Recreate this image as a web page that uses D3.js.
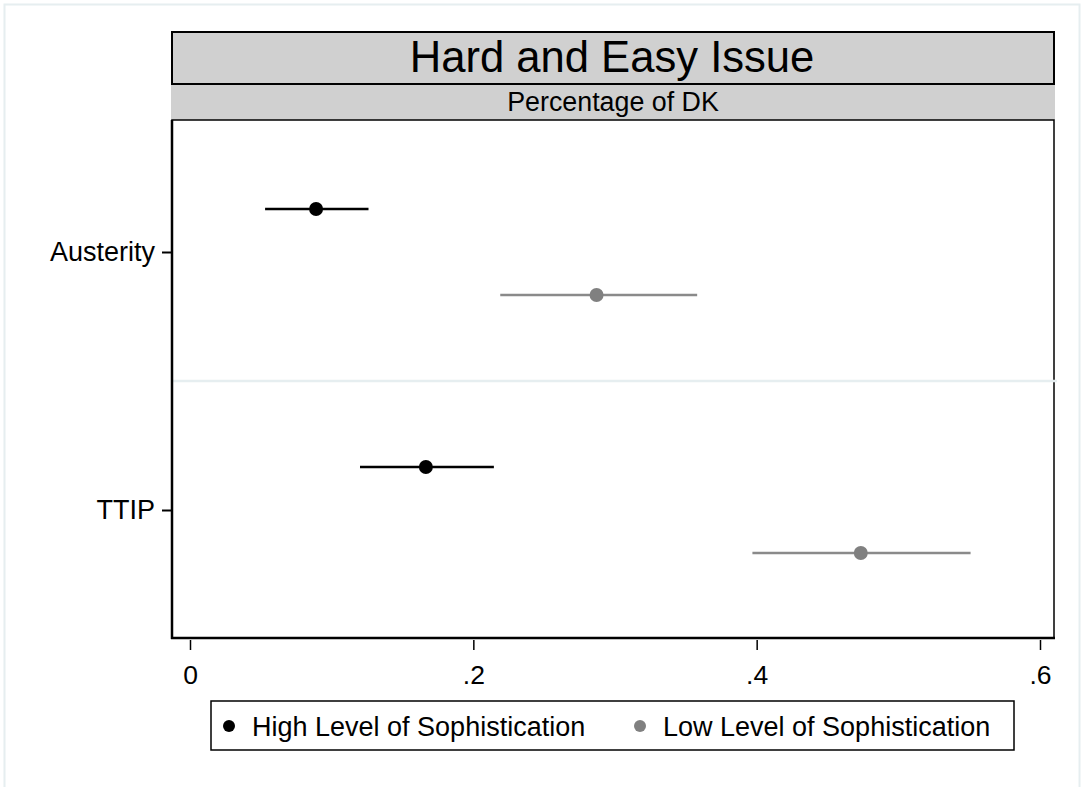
<!DOCTYPE html>
<html>
<head>
<meta charset="utf-8">
<script src="https://cdn.jsdelivr.net/npm/d3@7"></script>
<style>
  html, body { margin: 0; padding: 0; background: #ffffff; }
  svg { display: block; font-family: "Liberation Sans", Arial, sans-serif; }
</style>
</head>
<body>
<svg id="chart" width="1083" height="787"></svg>
<script>
// Issues shown on the vertical axis
const categories = ["Austerity", "TTIP"];

// Share of "don't know" answers with 95% intervals, by sophistication group
const highMean = [0.089, 0.1665];
const highLow  = [0.053, 0.120];
const highHigh = [0.126, 0.2145];

const lowMean = [0.287, 0.4735];
const lowLow  = [0.219, 0.397];
const lowHigh = [0.358, 0.551];

const xTicks = [0, 0.2, 0.4, 0.6];
const xTickLabels = ["0", ".2", ".4", ".6"];

const seriesNames = ["High Level of Sophistication", "Low Level of Sophistication"];

const series = [
  { name: seriesNames[0], mean: highMean, lo: highLow, hi: highHigh, color: "#000000", lineColor: "#000000", offset: -1 / 6 },
  { name: seriesNames[1], mean: lowMean,  lo: lowLow,  hi: lowHigh,  color: "#808080", lineColor: "#8a8a8a", offset: 1 / 6 }
];

const svg = d3.select("#chart");

// Light outer frame
svg.append("rect")
  .attr("x", 4.5).attr("y", 4.5)
  .attr("width", 1075).attr("height", 790)
  .attr("fill", "#ffffff")
  .attr("stroke", "#e6eef0").attr("stroke-width", 2);

const plot = { left: 172, right: 1054, top: 120, bottom: 638 };

const x = d3.scaleLinear().domain([0, 0.6]).range([190, 1040]);
const y = d3.scaleLinear().domain([0.5, 2.5]).range([123, 639]);

// Title box
svg.append("rect")
  .attr("x", 172).attr("y", 32)
  .attr("width", plot.right - 172).attr("height", 52)
  .attr("fill", "#d0d0d0")
  .attr("stroke", "#000").attr("stroke-width", 2);
svg.append("text")
  .attr("x", (172 + plot.right) / 2 - 1).attr("y", 72)
  .attr("text-anchor", "middle")
  .attr("font-size", 43.6)
  .attr("fill", "#000")
  .text("Hard and Easy Issue");

// Subtitle strip
svg.append("rect")
  .attr("x", 171).attr("y", 85)
  .attr("width", plot.right - 170).attr("height", 35)
  .attr("fill", "#d0d0d0");
svg.append("text")
  .attr("x", (172 + plot.right) / 2).attr("y", 111)
  .attr("text-anchor", "middle")
  .attr("font-size", 26.8)
  .attr("fill", "#000")
  .text("Percentage of DK");

// Plot region
svg.append("rect")
  .attr("x", plot.left).attr("y", plot.top)
  .attr("width", plot.right - plot.left).attr("height", plot.bottom - plot.top)
  .attr("fill", "#ffffff")
  .attr("stroke", "#000").attr("stroke-width", 1.5);

// Separator between issues
svg.append("line")
  .attr("x1", plot.left + 1).attr("x2", plot.right + 3)
  .attr("y1", y(1.5)).attr("y2", y(1.5))
  .attr("stroke", "#e6eef0").attr("stroke-width", 2.5);

// X axis
const xAxis = d3.axisBottom(x)
  .tickValues(xTicks)
  .tickFormat((d, i) => xTickLabels[i])
  .tickSize(10)
  .tickPadding(15);
const gx = svg.append("g")
  .attr("transform", `translate(0, ${plot.bottom + 2})`)
  .call(xAxis);
gx.select(".domain").remove();
gx.selectAll(".tick line").attr("stroke", "#000").attr("stroke-width", 1.5);
gx.selectAll(".tick text")
  .attr("font-size", 26.5)
  .attr("font-family", "Liberation Sans, Arial, sans-serif")
  .attr("fill", "#000");
svg.append("line")
  .attr("x1", plot.left - 1).attr("x2", plot.right + 1)
  .attr("y1", plot.bottom).attr("y2", plot.bottom)
  .attr("stroke", "#000").attr("stroke-width", 2.5);

// Y axis
const yAxis = d3.axisLeft(y)
  .tickValues([1, 2])
  .tickFormat((d) => categories[d - 1])
  .tickSize(10)
  .tickPadding(7);
const gy = svg.append("g")
  .attr("transform", `translate(${plot.left}, 0)`)
  .call(yAxis);
gy.select(".domain").remove();
gy.selectAll(".tick line").attr("stroke", "#000").attr("stroke-width", 2);
gy.selectAll(".tick text")
  .attr("font-size", 27)
  .attr("font-family", "Liberation Sans, Arial, sans-serif")
  .attr("fill", "#000");
svg.append("line")
  .attr("x1", plot.left).attr("x2", plot.left)
  .attr("y1", plot.top).attr("y2", plot.bottom + 1)
  .attr("stroke", "#000").attr("stroke-width", 2.5);

// Intervals and point estimates
series.forEach((s) => {
  const g = svg.append("g");
  g.selectAll("line.ci")
    .data(categories.map((c, i) => i))
    .join("line")
    .attr("class", "ci")
    .attr("x1", (i) => x(s.lo[i])).attr("x2", (i) => x(s.hi[i]))
    .attr("y1", (i) => y(i + 1 + s.offset)).attr("y2", (i) => y(i + 1 + s.offset))
    .attr("stroke", s.lineColor).attr("stroke-width", 2.6);
  g.selectAll("circle.pt")
    .data(categories.map((c, i) => i))
    .join("circle")
    .attr("class", "pt")
    .attr("cx", (i) => x(s.mean[i]))
    .attr("cy", (i) => y(i + 1 + s.offset))
    .attr("r", 7)
    .attr("fill", s.color);
});

// Legend
const legend = svg.append("g");
legend.append("rect")
  .attr("x", 211).attr("y", 701)
  .attr("width", 803).attr("height", 49)
  .attr("fill", "#ffffff")
  .attr("stroke", "#000").attr("stroke-width", 1.5);
const legendX = [229, 640];
series.forEach((s, i) => {
  legend.append("circle")
    .attr("cx", legendX[i]).attr("cy", 726)
    .attr("r", 6)
    .attr("fill", s.color);
  legend.append("text")
    .attr("x", legendX[i] + 23).attr("y", 736)
    .attr("font-size", 27)
    .attr("fill", "#000")
    .text(s.name);
});
</script>
</body>
</html>
